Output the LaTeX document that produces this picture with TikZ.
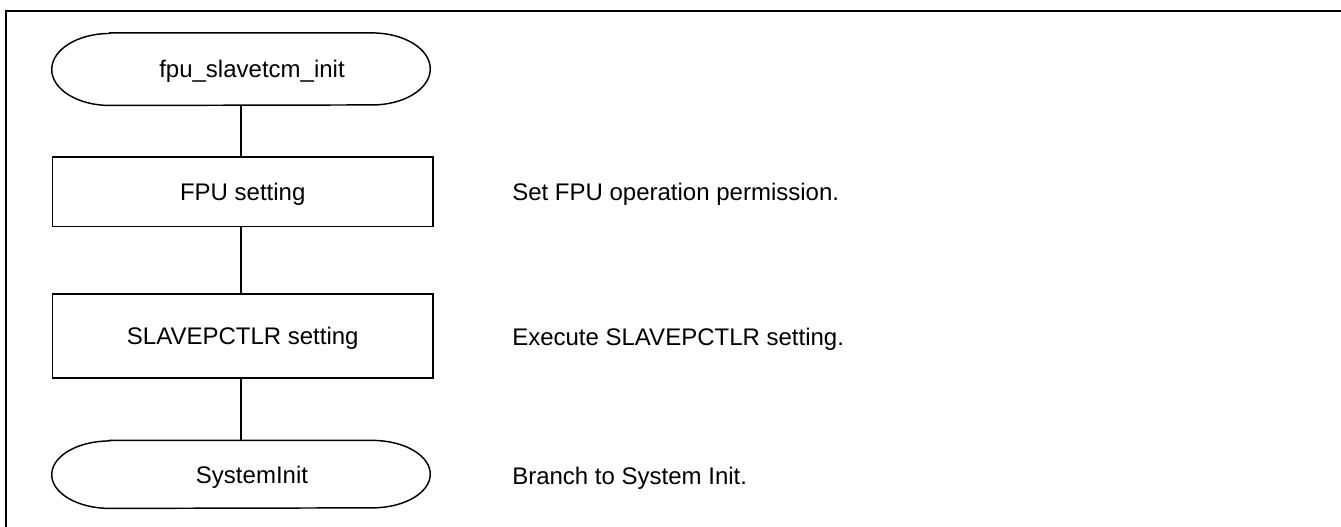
\documentclass[tikz,border=0pt]{standalone}
\usepackage{fontspec}
\setmainfont{Liberation Sans}
\newcommand\termpath[3]{%
  \draw[shapeline] ([xshift=#2]#1.north west) -- ([xshift=-#2]#1.north east)
    arc[start angle=90,end angle=-90,x radius=#2,y radius=#3]
    -- ([xshift=#2]#1.south west)
    arc[start angle=270,end angle=90,x radius=#2,y radius=#3] -- cycle;}
\tikzset{
  shapeline/.style={line width=1.1pt, draw=black},
  txt/.style={font=\fontsize{18pt}{21pt}\selectfont, text height=12.9pt, text depth=0pt, inner sep=0pt},
  procbox/.style={txt, draw=black, line width=1.1pt, rectangle, minimum width=285.4pt},
  termnode/.style={txt, draw=none, rectangle, minimum width=283.5pt},
  note/.style={txt, anchor=west},
  conn/.style={line width=1.1pt, draw=black}
}
\begin{document}
\begin{tikzpicture}[x=0.75pt,y=-0.75pt]
\useasboundingbox (0,0) rectangle (1341,527);
% frame
\coordinate (frTR) at (1341,11);
\coordinate (frTL) at (6,11);
\coordinate (frBL) at (6,527);
\draw[line width=1.5pt] (frTR) -- (frTL) -- (frBL);
% nodes
\node[termnode, minimum height=54pt] (t1) at (241,69.2) {\hspace*{16.5pt}fpu\_slavetcm\_init};
\node[procbox, minimum height=52.1pt] (b1) at (242.75,191.75) {FPU setting};
\node[procbox, minimum height=63pt] (b2) at (242.75,336) {SLAVEPCTLR setting};
\node[termnode, minimum height=50.6pt] (t2) at (241,474.4) {\hspace*{16.5pt}SystemInit};
\termpath{t1}{43.5pt}{27pt}
\termpath{t2}{43.5pt}{25.3pt}
% connectors
\draw[conn] (t1.south) -- (t1.south |- b1.north);
\draw[conn] (t1.south |- b1.south) -- (t1.south |- b2.north);
\draw[conn] (t1.south |- b2.south) -- (t2.north);
% notes
\node[note] (n1) at (512,192) {Set FPU operation permission.};
\node[note] (n2) at (512,336.5) {Execute SLAVEPCTLR setting.};
\node[note] (n3) at (512,476) {Branch to System Init.};
\end{tikzpicture}
\end{document}
